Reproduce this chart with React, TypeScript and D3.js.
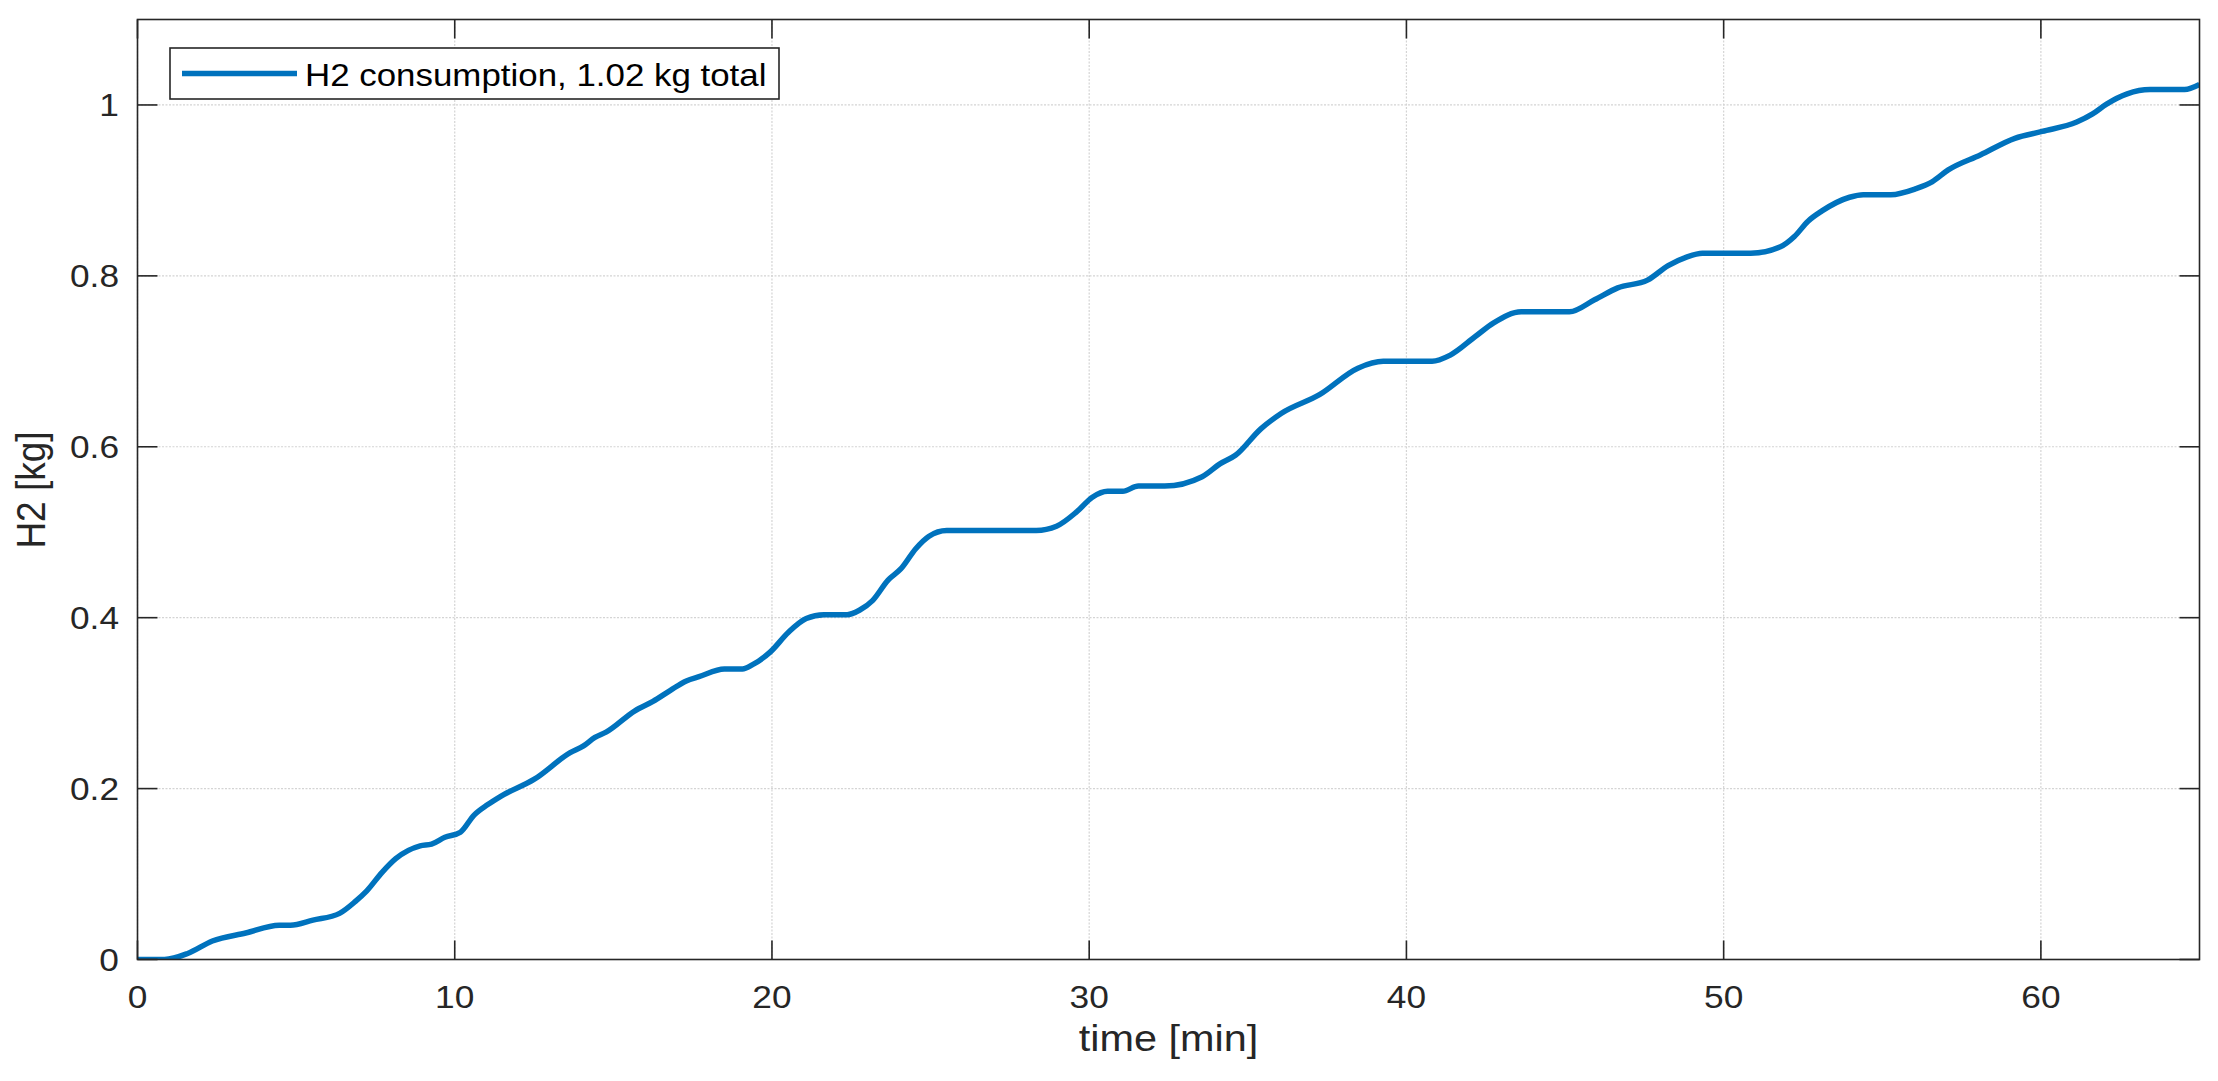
import React, { useEffect } from "react";
import * as d3 from "d3";

const timeMin = [0, 0.85, 1.58, 2.36, 3.41, 4.47, 4.82, 5.53, 6.37, 6.87, 7.22, 7.71, 8.14, 8.91, 9.27, 9.69, 10.18, 10.61, 11.03, 11.45, 12.51, 13.64, 14.06, 14.42, 14.77, 15.68, 16.25, 16.8, 17.3, 17.7, 18.5, 19.07, 19.39, 19.95, 20.52, 21.08, 21.64, 22.37, 22.77, 23.17, 23.66, 24.06, 24.54, 24.94, 25.51, 28.33, 28.97, 29.61, 30.1, 30.58, 31.06, 31.55, 32.38, 33.56, 34.12, 34.61, 35.41, 36.05, 37.26, 38.47, 39.27, 40.81, 41.37, 42.17, 42.75, 43.62, 45.14, 45.93, 46.66, 47.6, 48.25, 48.83, 49.33, 50.85, 51.79, 52.23, 52.66, 53.1, 53.97, 54.4, 55.27, 56.06, 56.57, 57.08, 58.09, 59.18, 60.04, 61.13, 61.63, 62.07, 62.72, 63.44, 64.53, 65];
const h2Kg = [0, 0, 0.007, 0.0216, 0.031, 0.04, 0.04, 0.046, 0.054, 0.068, 0.08, 0.102, 0.118, 0.133, 0.135, 0.143, 0.149, 0.169, 0.181, 0.191, 0.211, 0.242, 0.25, 0.26, 0.266, 0.291, 0.302, 0.315, 0.326, 0.331, 0.34, 0.34, 0.345, 0.36, 0.383, 0.399, 0.4035, 0.4035, 0.409, 0.42, 0.444, 0.457, 0.481, 0.495, 0.502, 0.502, 0.507, 0.524, 0.541, 0.548, 0.548, 0.554, 0.554, 0.565, 0.58, 0.59, 0.621, 0.639, 0.661, 0.692, 0.7, 0.7, 0.707, 0.729, 0.745, 0.758, 0.758, 0.772, 0.786, 0.795, 0.812, 0.822, 0.8265, 0.8265, 0.834, 0.846, 0.864, 0.876, 0.892, 0.895, 0.895, 0.902, 0.91, 0.924, 0.9415, 0.961, 0.969, 0.98, 0.9895, 1.001, 1.013, 1.018, 1.018, 1.024];
const xTicks = [0, 10, 20, 30, 40, 50, 60];
const yTicks = [0, 0.2, 0.4, 0.6, 0.8, 1];
const xLabel = "time [min]";
const yLabel = "H2 [kg]";
const legendLabel = "H2 consumption, 1.02 kg total";

const W = 2218;
const H = 1081;
const LEFT = 137.5;
const RIGHT = 2199.5;
const TOP = 19.5;
const BOTTOM = 959.5;
const SX = 1.12;
const FONT = "Arial, 'Liberation Sans', Helvetica, sans-serif";
const AX = "#262626";
const LINE = "#0072BD";

export default function App() {
  useEffect(() => {
    document.body.style.margin = "0";
  }, []);

  const x = d3.scaleLinear().domain([0, 65]).range([LEFT, RIGHT]);
  const y = d3.scaleLinear().domain([0, 1.1]).range([BOTTOM, TOP]);
  const pts = timeMin.map((t, i) => [t, h2Kg[i]] as [number, number]);
  const path = d3
    .line<[number, number]>()
    .x((d) => x(d[0]))
    .y((d) => y(d[1]))
    .curve(d3.curveMonotoneX)(pts) as string;

  const tickFs = 31.5;
  const labelFs = 37;

  return (
    <svg width={W} height={H} style={{ position: "absolute", left: 0, top: 0, background: "#fff" }}>
      <rect x={0} y={0} width={W} height={H} fill="#fff" />
      {xTicks.map((t) => (
        <line key={"gx" + t} x1={x(t)} x2={x(t)} y1={TOP} y2={BOTTOM} stroke="#d4d4d4" strokeWidth={1.2} strokeDasharray="2,1.5" />
      ))}
      {yTicks.map((v) => (
        <line key={"gy" + v} x1={LEFT} x2={RIGHT} y1={y(v)} y2={y(v)} stroke="#d4d4d4" strokeWidth={1.2} strokeDasharray="2,1.5" />
      ))}
      <defs>
        <clipPath id="plotclip">
          <rect x={LEFT} y={TOP} width={RIGHT - LEFT} height={BOTTOM - TOP} />
        </clipPath>
      </defs>
      <path d={path} fill="none" stroke={LINE} strokeWidth={5.5} strokeLinejoin="round" strokeLinecap="butt" clipPath="url(#plotclip)" />
      <rect x={LEFT} y={TOP} width={RIGHT - LEFT} height={BOTTOM - TOP} fill="none" stroke={AX} strokeWidth={1.6} />
      {xTicks.map((t) => (
        <g key={"tx" + t}>
          <line x1={x(t)} x2={x(t)} y1={BOTTOM} y2={BOTTOM - 19} stroke={AX} strokeWidth={1.6} />
          <line x1={x(t)} x2={x(t)} y1={TOP} y2={TOP + 19} stroke={AX} strokeWidth={1.6} />
          <text transform={`translate(${x(t)},${1008}) scale(${SX},1)`} textAnchor="middle" fontFamily={FONT} fontSize={tickFs} fill={AX}>
            {t}
          </text>
        </g>
      ))}
      {yTicks.map((v) => (
        <g key={"ty" + v}>
          <line x1={LEFT} x2={LEFT + 20} y1={y(v)} y2={y(v)} stroke={AX} strokeWidth={1.6} />
          <line x1={RIGHT} x2={RIGHT - 20} y1={y(v)} y2={y(v)} stroke={AX} strokeWidth={1.6} />
          <text transform={`translate(${119},${y(v) + 11.5}) scale(${SX},1)`} textAnchor="end" fontFamily={FONT} fontSize={tickFs} fill={AX}>
            {String(v)}
          </text>
        </g>
      ))}
      <text transform={`translate(${(LEFT + RIGHT) / 2},${1051}) scale(${SX},1)`} textAnchor="middle" fontFamily={FONT} fontSize={labelFs} fill={AX}>
        {xLabel}
      </text>
      <text transform={`translate(${45},${490}) scale(${SX},1) rotate(-90)`} textAnchor="middle" fontFamily={FONT} fontSize={labelFs} fill={AX}>
        {yLabel}
      </text>
      <rect x={170} y={48} width={609} height={51} fill="#fff" stroke={AX} strokeWidth={1.6} />
      <line x1={182} x2={297} y1={73.5} y2={73.5} stroke={LINE} strokeWidth={5.5} />
      <text transform={`translate(${305},${85.5}) scale(1.09,1)`} fontFamily={FONT} fontSize={32} fill="#000">
        {legendLabel}
      </text>
    </svg>
  );
}
